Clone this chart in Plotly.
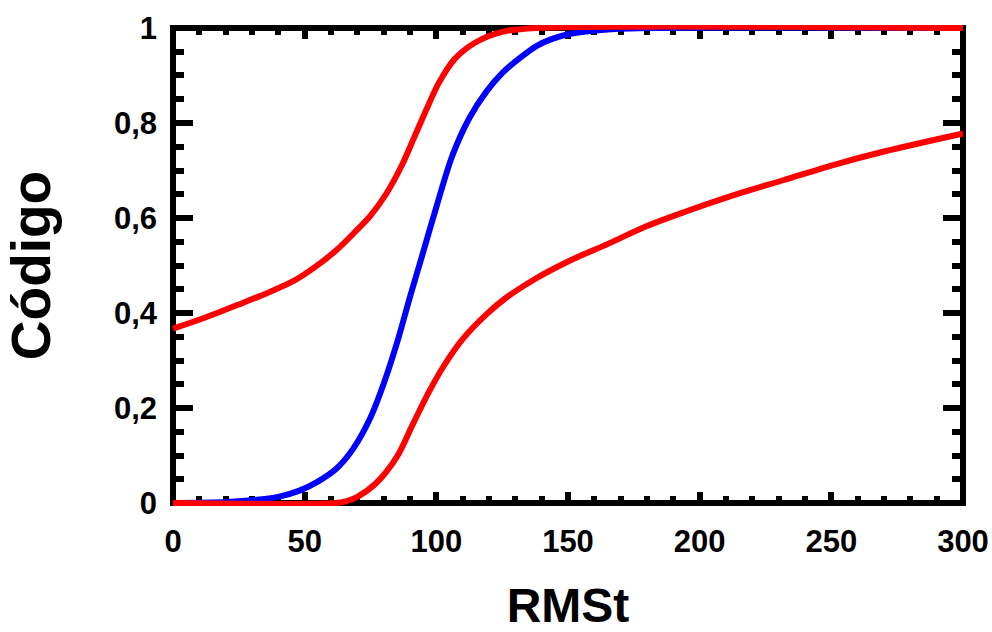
import plotly.graph_objects as go

# ---- data ----
x_ticks = [0, 50, 100, 150, 200, 250, 300]
x_ticktext = ["0", "50", "100", "150", "200", "250", "300"]
y_ticks = [0, 0.2, 0.4, 0.6, 0.8, 1.0]
y_ticktext = ["0", "0,2", "0,4", "0,6", "0,8", "1"]

blue_x = [0, 20, 30, 40, 48, 55, 62, 68.5, 75, 80, 85, 90, 95, 100, 106, 112.5, 119, 125, 132, 138, 144, 151, 165, 185, 300]
blue_y = [0, 0.002, 0.006, 0.013, 0.026, 0.045, 0.072, 0.115, 0.18, 0.251, 0.336, 0.434, 0.528, 0.623, 0.73, 0.81, 0.866, 0.905, 0.938, 0.962, 0.977, 0.988, 0.997, 1.0, 1.0]

upper_x = [0, 12, 25, 37, 46, 54, 62, 69, 75, 81, 87, 92, 97, 101, 107, 115, 125, 138, 300]
upper_y = [0.367, 0.39, 0.418, 0.445, 0.468, 0.497, 0.532, 0.57, 0.605, 0.651, 0.712, 0.775, 0.838, 0.885, 0.935, 0.97, 0.992, 1.0, 1.0]

lower_x = [0, 62, 66, 70, 77, 85, 91, 97, 103, 110, 119, 126, 137, 151, 165, 180, 194, 213, 232, 251, 270, 300]
lower_y = [0, 0, 0.004, 0.013, 0.041, 0.097, 0.165, 0.232, 0.29, 0.345, 0.397, 0.43, 0.47, 0.511, 0.545, 0.583, 0.612, 0.648, 0.68, 0.712, 0.74, 0.778]

FONT = "Liberation Sans, Arial, sans-serif"

fig = go.Figure()
fig.add_trace(go.Scatter(x=blue_x, y=blue_y, mode="lines",
                         line=dict(color="#0000ff", width=6, shape="spline", smoothing=0.9)))
fig.add_trace(go.Scatter(x=lower_x, y=lower_y, mode="lines",
                         line=dict(color="#ff0000", width=6, shape="spline", smoothing=0.9)))
fig.add_trace(go.Scatter(x=upper_x, y=upper_y, mode="lines",
                         line=dict(color="#ff0000", width=6, shape="spline", smoothing=0.9)))

fig.add_shape(type="rect", xref="x", yref="y", x0=0, x1=300, y0=0, y1=1,
              line=dict(color="black", width=6), layer="below")

fig.update_xaxes(
    range=[-1.14, 301.14], showline=False, showgrid=False, zeroline=False,
    automargin=False, layer="below traces", ticklabeloverflow="allow",
    ticks="inside", ticklen=14, tickwidth=6, tickcolor="black", mirror="ticks",
    tickvals=x_ticks, ticktext=x_ticktext, ticklabelstandoff=14,
    tickfont=dict(family=FONT, size=31, color="black", weight="bold"),
    minor=dict(ticks="inside", ticklen=10, tickwidth=6, tickcolor="black",
               dtick=10, tick0=0, showgrid=False),
    title=dict(text="RMSt", font=dict(family=FONT, size=48, color="black", weight="bold"),
               standoff=30),
)
fig.update_yaxes(
    range=[-0.0063, 1.0063], showline=False, showgrid=False, zeroline=False,
    automargin=False, layer="below traces", ticklabeloverflow="allow",
    ticks="inside", ticklen=23, tickwidth=6, tickcolor="black", mirror="ticks",
    tickvals=y_ticks, ticktext=y_ticktext, ticklabelstandoff=12,
    tickfont=dict(family=FONT, size=31, color="black", weight="bold"),
    minor=dict(ticks="inside", ticklen=14, tickwidth=6, tickcolor="black",
               dtick=0.05, tick0=0, showgrid=False),
    title=dict(text="Código", font=dict(family=FONT, size=55, color="black", weight="bold"),
               standoff=51),
)
fig.update_layout(
    width=992, height=632,
    margin=dict(l=170, r=26, t=25, b=126),
    plot_bgcolor="white", paper_bgcolor="white",
    showlegend=False,
    separators=",.",
)
fig.write_html("out.html", config={"displayModeBar": False},
               post_script="document.body.style.margin='0';")
